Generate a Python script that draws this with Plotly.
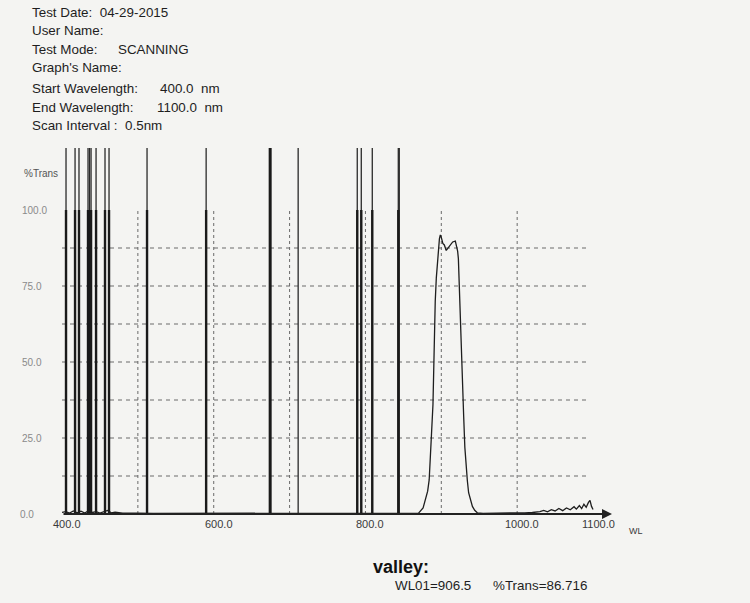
import plotly.graph_objects as go

# ---------------- data ----------------
wavelength = [400, 405, 410, 415, 420, 425, 430, 435, 440, 445, 450, 455, 460, 465, 470,
              480, 490, 500, 520, 560, 600, 650, 700, 750, 800, 850, 865, 870,
              876, 879, 882, 884, 886, 887, 889, 890, 891, 892, 893.4, 894.7, 896, 897.5,
              898.7, 900, 902, 904, 906.5, 909, 912, 915, 918.5, 920, 921.5, 922.5, 923.7,
              925, 926.5, 928, 929.5, 931, 932.5, 934.3, 936, 938.3, 941, 944, 947.5,
              955, 970, 990, 1000, 1010, 1020, 1030, 1035, 1040, 1045, 1050, 1055, 1060,
              1065, 1070, 1075, 1078, 1082, 1085, 1088, 1091, 1094, 1096, 1098, 1100]
transmission = [0.5, 0.8, 0.3, 1.0, 0.4, 0.9, 0.3, 1.1, 0.5, 0.8, 0.3, 0.7, 1.2, 0.4, 0.6,
                0.3, 0.2, 0.3, 0.2, 0.2, 0.1, 0.1, 0.1, 0.1, 0.1, 0.1, 0.2, 0.3,
                2.0, 4.6, 7.5, 11.2, 19, 26, 36, 50, 62, 70, 77.6, 83, 87, 90.5,
                91.8, 91, 89, 88.5, 86.7, 87.5, 88.5, 89.5, 89.8, 88.5, 86.5, 84, 74,
                63, 52, 42, 32, 22, 15, 11, 7, 4.6, 2.5, 1.2, 0.4,
                0.2, 0.2, 0.3, 0.3, 0.4, 0.5, 0.8, 1.2, 0.7, 1.4, 1.0, 1.8, 1.1,
                2.0, 1.4, 2.4, 1.6, 2.8, 1.8, 3.2, 2.2, 3.8, 4.5, 2.5, 1.5]

# off-scale spikes (clipped at top of chart)
spike_wl = [405.3, 417.2, 422.4, 434.3, 436.3, 438.3, 444.9, 456.7, 462.0,
            512.1, 590.0, 674.4, 711.3, 789.2, 794.5, 809.0, 843.3, 844.6]
bold_spike_wl = [405.3, 417.2, 422.4, 434.3, 436.3, 438.3, 444.9, 456.7, 462.0,
                 512.1, 590.0, 789.2, 794.5, 809.0, 843.3]
heavy_spike_wl = [674.4]
spike_top = 120.4

x_tick_vals = [400, 600, 800, 1000, 1100]
x_tick_text = ["400.0", "600.0", "800.0", "1000.0", "1100.0"]
y_tick_vals = [100, 75, 50, 25, 0]
y_tick_text = ["100.0", "75.0", "50.0", "25.0", "0.0"]
h_grid = [12.5, 25, 37.5, 50, 62.5, 75, 87.5]
v_grid = [500, 600, 700, 800, 900, 1000]

header = [("Test Date:  04-29-2015", None),
          ("User Name:", None),
          ("Test Mode:", "SCANNING"),
          ("Graph's Name:", None),
          ("Start Wavelength:", "400.0  nm"),
          ("End Wavelength:", "1100.0  nm"),
          ("Scan Interval :  0.5nm", None)]
valley_wl = 906.5
valley_t = 86.716

# ---------------- layout helpers ----------------
W, H = 750, 603
L, R, T, B = 62, 612, 148, 514
def px(x):
    return (x - L) / (R - L)
def py(y):
    return (B - y) / (B - T)

FONT = "Liberation Sans, Arial, sans-serif"
INK = "#1e1e1e"

fig = go.Figure()

# spikes: thin full-height lines
sx, sy = [], []
for w in spike_wl:
    sx += [w, w, None]
    sy += [0, spike_top, None]
fig.add_trace(go.Scatter(x=sx, y=sy, mode="lines", line=dict(color="#2a2a2a", width=1.3),
                         hoverinfo="skip", showlegend=False))
# bold lower parts
bx, by = [], []
for w in bold_spike_wl:
    bx += [w, w, None]
    by += [0, 100, None]
fig.add_trace(go.Scatter(x=bx, y=by, mode="lines", line=dict(color="#1a1a1a", width=2.4),
                         hoverinfo="skip", showlegend=False))
hx, hy = [], []
for w in heavy_spike_wl:
    hx += [w, w, None]
    hy += [0, spike_top, None]
fig.add_trace(go.Scatter(x=hx, y=hy, mode="lines", line=dict(color="#1a1a1a", width=3),
                         hoverinfo="skip", showlegend=False))

# spectrum
fig.add_trace(go.Scatter(x=wavelength, y=transmission, mode="lines",
                         line=dict(color=INK, width=1.3), showlegend=False))

# gridlines (dashed) as shapes
shapes = []
for g in h_grid:
    shapes.append(dict(type="line", xref="x", yref="y", x0=400, x1=1095, y0=g, y1=g,
                       line=dict(color="#6a6a6a", width=1, dash="4px,4px"), layer="below"))
for g in v_grid:
    shapes.append(dict(type="line", xref="x", yref="y", x0=g, x1=g, y0=0, y1=100,
                       line=dict(color="#6a6a6a", width=1, dash="3px,3px"), layer="below"))

annotations = []
# axes with arrows
annotations.append(dict(x=1125, y=0, ax=400, ay=0, xref="x", yref="y", axref="x", ayref="y",
                        text="", showarrow=True, arrowhead=2, arrowsize=1, arrowwidth=2,
                        arrowcolor="#222222"))
annotations.append(dict(x=398.8, y=106, ax=398.8, ay=0, xref="x", yref="y", axref="x", ayref="y",
                        text="", showarrow=True, arrowhead=2, arrowsize=1.3, arrowwidth=1,
                        arrowcolor="#888888"))

# y tick labels
for v, t in zip(y_tick_vals, y_tick_text):
    annotations.append(dict(x=px(20 if t != "0.0" else 18), y=v, xref="paper", yref="y",
                            text=t, showarrow=False, xanchor="left", yanchor="middle",
                            font=dict(family=FONT, size=10, color="#8a8a8a")))
# x tick labels
for v, t in zip(x_tick_vals, x_tick_text):
    annotations.append(dict(x=v, y=py(524), xref="x", yref="paper", text=t, showarrow=False,
                            xanchor="center", yanchor="middle", xshift=5,
                            font=dict(family=FONT, size=11, color="#3a3a3a")))
annotations.append(dict(x=px(627), y=py(531), xref="paper", yref="paper", text="WL",
                        showarrow=False, xanchor="left", yanchor="middle",
                        font=dict(family=FONT, size=9, color="#3a3a3a")))
annotations.append(dict(x=px(22), y=py(173), xref="paper", yref="paper", text="%Trans",
                        showarrow=False, xanchor="left", yanchor="middle",
                        font=dict(family=FONT, size=10, color="#555555")))

# header text
line_y = [12, 31, 49, 68, 88, 107, 126]
value_x = {"SCANNING": 116, "400.0  nm": 158, "1100.0  nm": 155}
for (lab, val), yy in zip(header, line_y):
    annotations.append(dict(x=px(30), y=py(yy), xref="paper", yref="paper", text=lab,
                            showarrow=False, xanchor="left", yanchor="middle",
                            font=dict(family=FONT, size=13.4, color=INK)))
    if val:
        annotations.append(dict(x=px(value_x[val]), y=py(yy), xref="paper", yref="paper",
                                text=val.replace("  ", "&nbsp; "), showarrow=False,
                                xanchor="left", yanchor="middle",
                                font=dict(family=FONT, size=13.4, color=INK)))

# valley readout
annotations.append(dict(x=px(371), y=py(567), xref="paper", yref="paper", text="<b>valley:</b>",
                        showarrow=False, xanchor="left", yanchor="middle",
                        font=dict(family=FONT, size=18, color="#111111")))
annotations.append(dict(x=px(393), y=py(585), xref="paper", yref="paper",
                        text=f"WL01={valley_wl}", showarrow=False, xanchor="left",
                        yanchor="middle", font=dict(family=FONT, size=13.4, color=INK)))
annotations.append(dict(x=px(491), y=py(585), xref="paper", yref="paper",
                        text=f"%Trans={valley_t}", showarrow=False, xanchor="left",
                        yanchor="middle", font=dict(family=FONT, size=13.4, color=INK)))

fig.update_layout(
    width=W, height=H,
    margin=dict(l=L, r=W - R, t=T, b=H - B, pad=0),
    paper_bgcolor="#f4f4f2", plot_bgcolor="#f4f4f2",
    xaxis=dict(range=[400, 1125], showgrid=False, zeroline=False, showline=False,
               showticklabels=False, ticks=""),
    yaxis=dict(range=[0, spike_top], showgrid=False, zeroline=False, showline=False,
               showticklabels=False, ticks=""),
    shapes=shapes, annotations=annotations, showlegend=False,
)
fig.write_html("out.html", config={"displayModeBar": False},
               post_script="document.body.style.margin='0';document.body.style.overflow='hidden';")
